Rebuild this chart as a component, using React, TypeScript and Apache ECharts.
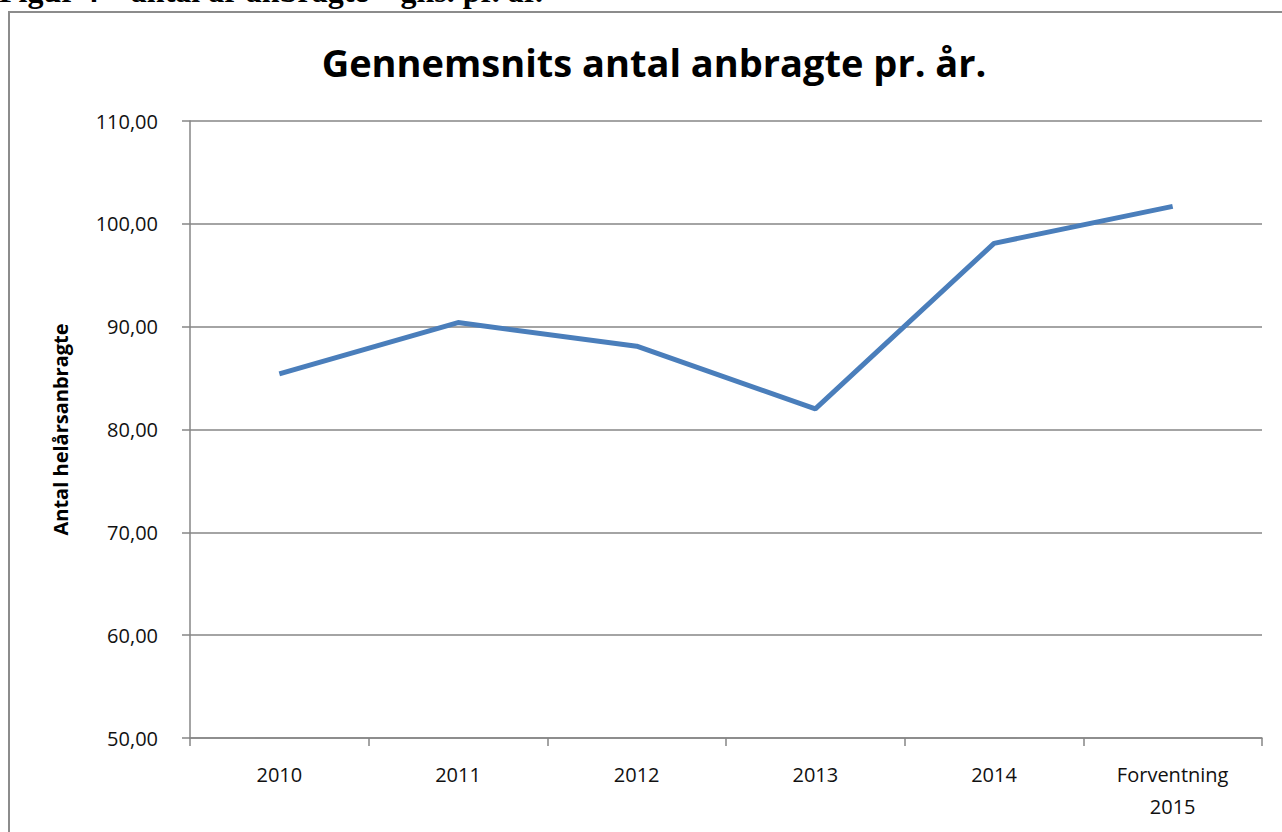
import React, { useEffect, useRef } from "react";
import * as echarts from "echarts";

const categories = ["2010", "2011", "2012", "2013", "2014", "Forventning\n2015"];
const values = [85.4, 90.4, 88.1, 82.0, 98.1, 101.7];
const chartTitle = "Gennemsnits antal anbragte pr. år.";
const yAxisName = "Antal helårsanbragte";
const caption = "Figur 4 – antal år anbragte – gns. pr. år.";

export default function App() {
  const ref = useRef<HTMLDivElement>(null);
  useEffect(() => {
    if (!ref.current) return;
    const chart = echarts.init(ref.current, null, { renderer: "svg" });
    const labelFont = "'Open Sans', 'DejaVu Sans', sans-serif";
    chart.setOption({
      animation: false,
      backgroundColor: "#ffffff",
      title: {
        text: chartTitle,
        top: 38,
        left: 649,
        textAlign: "center",
        textStyle: {
          fontFamily: labelFont,
          fontWeight: "bold",
          fontSize: 38,
          color: "#000000",
        },
      },
      graphic: [
        {
          type: "rect",
          shape: { x: 9, y: 12, width: 1290, height: 840 },
          style: { fill: "none", stroke: "#8c8c8c", lineWidth: 2 },
          silent: true,
        },
        {
          type: "text",
          x: -1,
          y: -25,
          style: {
            text: caption,
            font: "bold 32px 'Liberation Serif', 'Times New Roman', serif",
            fill: "#000000",
          },
        },
      ],
      grid: { left: 190, right: 20, top: 121, bottom: 94, containLabel: false },
      xAxis: {
        type: "category",
        data: categories,
        boundaryGap: true,
        axisLine: { lineStyle: { color: "#868686", width: 1.5 } },
        axisTick: { show: true, length: 8, lineStyle: { color: "#868686", width: 1.5 } },
        axisLabel: {
          color: "#111111",
          fontFamily: labelFont,
          fontSize: 20,
          margin: 20,
          lineHeight: 32,
        },
      },
      yAxis: {
        type: "value",
        min: 50,
        max: 110,
        interval: 10,
        name: yAxisName,
        nameLocation: "middle",
        nameGap: 120,
        nameTextStyle: {
          fontFamily: labelFont,
          fontWeight: "bold",
          fontSize: 20,
          color: "#000000",
        },
        axisLine: { show: true, lineStyle: { color: "#868686", width: 1.5 } },
        axisTick: { show: true, length: 8, lineStyle: { color: "#868686", width: 1.5 } },
        splitLine: { show: true, lineStyle: { color: "#868686", width: 1.5 } },
        axisLabel: {
          color: "#111111",
          fontFamily: labelFont,
          fontSize: 20,
          margin: 32,
          formatter: (v: number) => v.toFixed(2).replace(".", ","),
        },
      },
      series: [
        {
          type: "line",
          data: values,
          symbol: "none",
          lineStyle: { color: "#4a7ebb", width: 5 },
        },
      ],
    });
    return () => chart.dispose();
  }, []);
  return (
    <div
      ref={ref}
      style={{ position: "fixed", left: 0, top: 0, width: 1282, height: 832 }}
    />
  );
}
